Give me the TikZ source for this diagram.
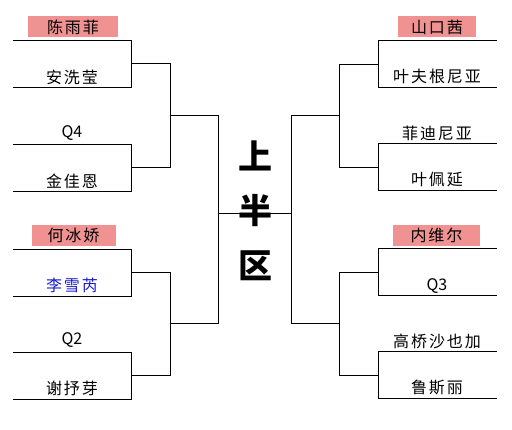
\documentclass[tikz,border=0pt]{standalone}
\usepackage{fontspec}
\setmainfont{Noto Sans CJK SC}[LetterSpace=12]
\newfontfamily\titlefont{Noto Sans CJK SC}
\newfontfamily\qfont{Noto Sans CJK SC}
\definecolor{seedpink}{RGB}{241,146,146}
\definecolor{winblue}{RGB}{26,26,204}
\begin{document}
\begin{tikzpicture}[x=1pt,y=-1pt,
  bline/.style={draw=black,line width=1pt},
  plabel/.style={inner sep=0pt,font=\fontsize{16}{19}\selectfont},
  qlabel/.style={inner sep=0pt,font=\qfont\fontsize{16}{19}\selectfont},
  seedbox/.style={plabel,fill=seedpink,minimum height=21pt},
  titlech/.style={inner sep=0pt,font=\titlefont\bfseries\fontsize{34}{38}\selectfont}]
\useasboundingbox (0,0) rectangle (512,430);
% ---------- left half coordinates ----------
\coordinate (a1) at (13,41);  \coordinate (b1) at (131,41);
\coordinate (a2) at (13,88);  \coordinate (b2) at (131,88);
\coordinate (a3) at (13,145); \coordinate (b3) at (131,145);
\coordinate (a4) at (13,192); \coordinate (b4) at (131,192);
\coordinate (a5) at (13,250); \coordinate (b5) at (131,250);
\coordinate (a6) at (13,297); \coordinate (b6) at (131,297);
\coordinate (a7) at (13,353); \coordinate (b7) at (131,353);
\coordinate (a8) at (13,400); \coordinate (b8) at (131,400);
\coordinate (m1) at (131,64);  \coordinate (n1) at (170,64);
\coordinate (m2) at (131,168); \coordinate (n2) at (170,168);
\coordinate (m3) at (131,273); \coordinate (n3) at (170,273);
\coordinate (m4) at (131,376); \coordinate (n4) at (170,376);
\coordinate (p1) at (170,116); \coordinate (q1) at (218,116);
\coordinate (p2) at (170,324); \coordinate (q2) at (218,324);
\coordinate (cL) at (218,214);
% ---------- right half coordinates ----------
\coordinate (c1) at (497,41);  \coordinate (d1) at (378,41);
\coordinate (c2) at (497,88);  \coordinate (d2) at (378,88);
\coordinate (c3) at (497,144); \coordinate (d3) at (378,144);
\coordinate (c4) at (497,191); \coordinate (d4) at (378,191);
\coordinate (c5) at (497,249); \coordinate (d5) at (378,249);
\coordinate (c6) at (497,296); \coordinate (d6) at (378,296);
\coordinate (c7) at (497,352); \coordinate (d7) at (378,352);
\coordinate (c8) at (497,399); \coordinate (d8) at (378,399);
\coordinate (r1) at (378,65);  \coordinate (s1) at (339,65);
\coordinate (r2) at (378,168); \coordinate (s2) at (339,168);
\coordinate (r3) at (378,273); \coordinate (s3) at (339,273);
\coordinate (r4) at (378,376); \coordinate (s4) at (339,376);
\coordinate (t1) at (339,116); \coordinate (u1) at (291,116);
\coordinate (t2) at (339,324); \coordinate (u2) at (291,324);
\coordinate (cR) at (291,214);
% ---------- bracket lines ----------
\draw[bline] (a1) -- (b1) -- (b2) -- (a2);
\draw[bline] (a3) -- (b3) -- (b4) -- (a4);
\draw[bline] (a5) -- (b5) -- (b6) -- (a6);
\draw[bline] (a7) -- (b7) -- (b8) -- (a8);
\draw[bline] (m1) -- (n1) -- (n2) -- (m2);
\draw[bline] (m3) -- (n3) -- (n4) -- (m4);
\draw[bline] (p1) -- (q1) -- (q2) -- (p2);
\draw[bline] (c1) -- (d1) -- (d2) -- (c2);
\draw[bline] (c3) -- (d3) -- (d4) -- (c4);
\draw[bline] (c5) -- (d5) -- (d6) -- (c6);
\draw[bline] (c7) -- (d7) -- (d8) -- (c8);
\draw[bline] (r1) -- (s1) -- (s2) -- (r2);
\draw[bline] (r3) -- (s3) -- (s4) -- (r4);
\draw[bline] (t1) -- (u1) -- (u2) -- (t2);
\draw[bline] (cL) -- (cR);
% ---------- names ----------
\node[seedbox,minimum width=90pt] (s1n) at (73,27) {陈雨菲};
\node[plabel] (n2n) at (72,77) {安洗莹};
\node[qlabel] (n3n) at (72,133) {Q4};
\node[plabel] (n4n) at (72,181) {金佳恩};
\node[seedbox,minimum width=84pt] (s5n) at (73.5,235.5) {何冰娇};
\node[plabel,text=winblue] (n6n) at (72,285) {李雪芮};
\node[qlabel] (n7n) at (72,340) {Q2};
\node[plabel] (n8n) at (72,388) {谢抒芽};
\node[seedbox,minimum width=78pt] (s9n) at (437,27) {山口茜};
\node[plabel] (n10n) at (437,76) {叶夫根尼亚};
\node[plabel] (n11n) at (437,133) {菲迪尼亚};
\node[plabel] (n12n) at (437,180) {叶佩延};
\node[seedbox,minimum width=87pt] (s13n) at (436.5,235.5) {内维尔};
\node[qlabel] (n14n) at (437,286) {Q3};
\node[plabel] (n15n) at (437,341) {高桥沙也加};
\node[plabel] (n16n) at (437,388) {鲁斯丽};
% ---------- title ----------
\node[titlech] (t1n) at (255,156) {上};
\node[titlech] (t2n) at (255,211) {半};
\node[titlech] (t3n) at (255,266) {区};
\end{tikzpicture}
\end{document}
